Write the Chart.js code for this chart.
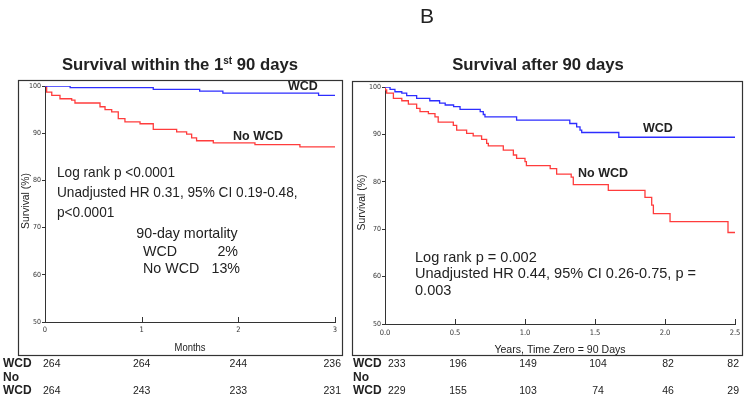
<!DOCTYPE html>
<html>
<head>
<meta charset="utf-8">
<script src="https://cdn.jsdelivr.net/npm/chart.js@4.4.1/dist/chart.umd.min.js"></script>
<style>
  html, body { margin: 0; padding: 0; background: #fff; }
  #wrap { position: relative; width: 750px; height: 399px; overflow: hidden; }
  canvas { position: absolute; top: 0; }
  #early { left: 0; }
  #late { left: 350px; }
</style>
</head>
<body>
<div id="wrap">
  <canvas id="early" width="350" height="399"></canvas>
  <canvas id="late" width="400" height="399"></canvas>
</div>
<script>
// survival within the first 90 days (x in months)
const earlyWcdT = [0, 0.26, 1.12, 1.6, 1.84, 2.83, 3.0];
const earlyWcdS = [100, 99.65, 99.3, 98.9, 98.5, 98.0, 98.0];
const earlyNoT = [0, 0.017, 0.07, 0.155, 0.276, 0.31, 0.569, 0.621, 0.69, 0.758, 0.827, 0.983, 1.12,
  1.362, 1.465, 1.517, 1.568, 1.741, 2.172, 2.637, 3.0];
const earlyNoS = [100, 98.7, 98.0, 97.3, 97.0, 96.4, 95.6, 95.0, 94.5, 93.1, 92.4, 92.0, 90.8,
  90.3, 89.8, 89.0, 88.4, 87.95, 87.6, 87.1, 87.1];
const earlyTicks = [0, 1, 2, 3];
const earlyRiskWcd = [264, 264, 244, 236];
const earlyRiskNo = [264, 243, 233, 231];

// survival after 90 days (x in years, time zero = 90 days)
const lateWcdT = [0, 0.036, 0.071, 0.12, 0.155, 0.226, 0.32, 0.39, 0.43, 0.49, 0.536, 0.68, 0.702,
  0.714, 0.94, 1.32, 1.369, 1.393, 1.405, 1.67, 2.5];
const lateWcdS = [100, 99.5, 99.0, 98.7, 98.2, 97.6, 97.1, 96.6, 96.2, 95.85, 95.3, 94.8, 94.2,
  93.7, 93.0, 92.3, 91.6, 90.9, 90.4, 89.4, 89.4];
const lateNoT = [0, 0.003, 0.012, 0.06, 0.12, 0.167, 0.226, 0.25, 0.31, 0.357, 0.38, 0.488, 0.512,
  0.583, 0.63, 0.69, 0.726, 0.738, 0.845, 0.917, 0.94, 1.0, 1.01, 1.18, 1.226, 1.33, 1.345, 1.595,
  1.857, 1.905, 1.917, 2.036, 2.45, 2.5];
const lateNoS = [100, 99.4, 98.7, 97.6, 97.1, 96.4, 95.5, 94.8, 94.4, 93.7, 92.6, 91.9, 90.9,
  90.2, 89.7, 88.95, 88.1, 87.6, 86.7, 85.65, 84.95, 84.25, 83.4, 82.8, 81.6, 81.0, 79.4, 78.2,
  76.7, 75.1, 73.3, 71.6, 69.3, 69.3];
const lateTicks = [0, 0.5, 1.0, 1.5, 2.0, 2.5];
const lateRiskWcd = [233, 196, 149, 104, 82, 82];
const lateRiskNo = [229, 155, 103, 74, 46, 29];

const yTicks = [50, 60, 70, 80, 90, 100];

const SANS = '"Liberation Sans", Arial, sans-serif';
const COND = '"DejaVu Sans Condensed", "Liberation Sans", sans-serif';
const BLUE = "rgb(45, 45, 255)";
const RED = "rgb(255, 60, 60)";
const INK = "#222";

function pts(t, s) {
  return t.map((x, i) => ({ x: x, y: s[i] }));
}

// sx < 1 で横を詰めて Arial Narrow 風にする
function text(ctx, str, x, y, font, align, sx) {
  ctx.save();
  ctx.translate(x, y);
  ctx.scale(sx || 1, 1);
  ctx.font = font;
  ctx.textAlign = align || "left";
  ctx.fillText(str, 0, 0);
  ctx.restore();
}

/**
 * 枠、ラベル、注記、リスク表を描く
 */
function decoPlugin(deco) {
  return {
    id: "deco",
    afterDraw(chart) {
      const ctx = chart.ctx;
      const xs = chart.scales.x;
      const area = chart.chartArea;
      ctx.save();
      ctx.fillStyle = INK;
      ctx.textBaseline = "alphabetic";

      // frame
      ctx.strokeStyle = "#333";
      ctx.lineWidth = 1.2;
      ctx.strokeRect(deco.frame[0], deco.frame[1], deco.frame[2], deco.frame[3]);

      // inward ticks on x axis
      ctx.lineWidth = 1;
      deco.ticks.forEach((v) => {
        const px = Math.round(xs.getPixelForValue(v)) + 0.5;
        ctx.beginPath();
        ctx.moveTo(px, area.bottom);
        ctx.lineTo(px, area.bottom - 5);
        ctx.stroke();
      });

      // title
      const tf = "bold 16.7px " + SANS, sf = "bold 10px " + SANS;
      if (deco.sup) {
        const a = deco.title[0], b = deco.title[1];
        ctx.font = tf;
        const wa = ctx.measureText(a).width;
        const wb = ctx.measureText(b).width;
        ctx.font = sf;
        const ws = ctx.measureText(deco.sup).width;
        const x0 = deco.titleX - (wa + ws + wb) / 2;
        text(ctx, a, x0, deco.titleY, tf);
        text(ctx, deco.sup, x0 + wa, deco.titleY - 6, sf);
        text(ctx, b, x0 + wa + ws, deco.titleY, tf);
      } else {
        text(ctx, deco.title[0], deco.titleX, deco.titleY, tf, "center");
      }
      if (deco.letter) {
        text(ctx, deco.letter[0], deco.letter[1], deco.letter[2], "21px " + SANS, "center");
      }

      // series names
      deco.names.forEach((n) => text(ctx, n[0], n[1], n[2], "bold 12.5px " + SANS));

      // notes
      deco.notes.forEach((n) => text(ctx, n[0], n[1], n[2], "15px " + SANS, n[3] || "left", n[4] || deco.noteSx));

      // axis titles
      text(ctx, deco.xTitle, (area.left + area.right) / 2, deco.xTitleY, "11.5px " + SANS, "center", deco.xTitleSx);
      ctx.save();
      ctx.translate(deco.yTitleX, (area.top + area.bottom) / 2 - 3);
      ctx.rotate(-Math.PI / 2);
      text(ctx, "Survival (%)", 0, 0, "11.5px " + SANS, "center", 0.9);
      ctx.restore();

      // number at risk
      text(ctx, "WCD", deco.rowX, 367, "bold 12px " + SANS);
      text(ctx, "No", deco.rowX, 381, "bold 12px " + SANS);
      text(ctx, "WCD", deco.rowX, 394, "bold 12px " + SANS);
      [[deco.risk[0], 367], [deco.risk[1], 394]].forEach((row) => {
        row[0].forEach((n, i) => {
          const px = xs.getPixelForValue(deco.ticks[i]);
          let align = "center", dx = deco.dx[1];
          if (i === 0) { align = "left"; dx = deco.dx[0]; }
          else if (i === deco.ticks.length - 1) { align = "right"; dx = deco.dx[2]; }
          text(ctx, String(n), px + dx, row[1], "10.5px " + SANS, align);
        });
      });
      ctx.restore();
    },
  };
}

function makeChart(id, series, xMax, ticks, pad, fmt, deco) {
  const ctx = document.getElementById(id).getContext("2d");
  return new Chart(ctx, {
    type: "line",
    data: {
      datasets: series.map((s) => ({
        label: s.label,
        data: s.data,
        stepped: true,
        borderColor: s.color,
        borderWidth: 1.3,
        pointRadius: 0,
        fill: false,
      })),
    },
    options: {
      responsive: false,
      animation: false,
      layout: { padding: pad },
      plugins: { legend: { display: false }, tooltip: { enabled: false } },
      scales: {
        x: {
          type: "linear",
          min: 0,
          max: xMax,
          afterBuildTicks: (s) => { s.ticks = ticks.map((v) => ({ value: v })); },
          afterFit: (s) => { s.height = 20; },
          grid: { display: false, drawTicks: false },
          border: { display: true, color: "#333", width: 1 },
          ticks: {
            padding: deco.tickPad,
            maxRotation: 0,
            autoSkip: false,
            color: "#333",
            font: { family: COND, size: 7.5 },
            callback: fmt,
          },
        },
        y: {
          min: 50,
          max: 100,
          afterBuildTicks: (s) => { s.ticks = yTicks.map((v) => ({ value: v })); },
          afterFit: (s) => { s.width = 20; },
          grid: { display: true, drawOnChartArea: false, drawTicks: true, tickLength: 3, color: "#333" },
          border: { display: true, color: "#333", width: 1 },
          ticks: { padding: 1, color: "#333", font: { family: COND, size: 7 } },
        },
      },
    },
    plugins: [decoPlugin(deco)],
  });
}

makeChart("early", [
  { label: "WCD", data: pts(earlyWcdT, earlyWcdS), color: BLUE },
  { label: "No WCD", data: pts(earlyNoT, earlyNoS), color: RED },
], 3, earlyTicks, { left: 25, right: 15, top: 86, bottom: 57 }, (v) => String(v), {
  frame: [18.5, 80.5, 324, 275],
  ticks: earlyTicks,
  tickPad: 4,
  title: ["Survival within the 1", " 90 days"],
  sup: "st",
  titleX: 180,
  titleY: 70,
  names: [["WCD", 288, 90], ["No WCD", 233, 140]],
  noteSx: 0.91,
  notes: [
    ["Log rank p <0.0001", 57, 176.5],
    ["Unadjusted HR 0.31, 95% CI 0.19-0.48,", 57, 196.5],
    ["p<0.0001", 57, 216.5],
    ["90-day mortality", 187, 238, "center", 0.95],
    ["WCD", 143, 255.5, "left", 0.95],
    ["2%", 238, 255.5, "right", 0.95],
    ["No WCD", 143, 273, "left", 0.95],
    ["13%", 240, 273, "right", 0.95],
  ],
  xTitle: "Months",
  xTitleY: 351,
  xTitleSx: 0.82,
  yTitleX: 29,
  rowX: 3,
  risk: [earlyRiskWcd, earlyRiskNo],
  dx: [-2, 0, 6],
});

makeChart("late", [
  { label: "WCD", data: pts(lateWcdT, lateWcdS), color: BLUE },
  { label: "No WCD", data: pts(lateNoT, lateNoS), color: RED },
], 2.5, lateTicks, { left: 15, right: 15, top: 87, bottom: 55 }, (v) => v.toFixed(1), {
  frame: [2.5, 81.5, 390, 274],
  ticks: lateTicks,
  tickPad: 5,
  title: ["Survival after 90 days"],
  titleX: 188,
  titleY: 70,
  letter: ["B", 77, 23],
  names: [["WCD", 293, 131.5], ["No WCD", 228, 177]],
  noteSx: 0.97,
  notes: [
    ["Log rank p = 0.002", 65, 261.5],
    ["Unadjusted HR 0.44, 95% CI 0.26-0.75, p =", 65, 278],
    ["0.003", 65, 295],
  ],
  xTitle: "Years, Time Zero = 90 Days",
  xTitleY: 352.5,
  xTitleSx: 0.92,
  yTitleX: 15,
  rowX: 3,
  risk: [lateRiskWcd, lateRiskNo],
  dx: [3, 3, 4],
});
</script>
</body>
</html>
